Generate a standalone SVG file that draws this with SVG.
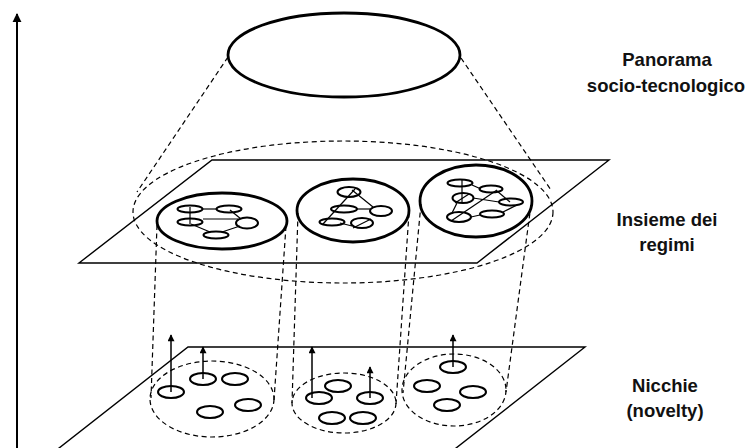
<svg xmlns="http://www.w3.org/2000/svg" width="752" height="448" viewBox="0 0 752 448">
  <defs>
    <marker id="tip" viewBox="0 0 10 10" refX="9" refY="5" markerWidth="9" markerHeight="7" orient="auto" markerUnits="userSpaceOnUse">
      <path d="M0,0 L10,5 L0,10 z" fill="#000"/>
    </marker>
    <marker id="tipBig" viewBox="0 0 10 10" refX="9" refY="5" markerWidth="9" markerHeight="10" orient="auto" markerUnits="userSpaceOnUse">
      <path d="M0,0 L10,5 L0,10 z" fill="#000"/>
    </marker>
    <style>
      .plane { fill: none; stroke: #000; stroke-width: 1.4; }
      .dash { fill: none; stroke: #000; stroke-width: 1.2; stroke-dasharray: 5 3.5; }
      .big { fill: none; stroke: #000; stroke-width: 2.8; }
      .reg { fill: none; stroke: #000; stroke-width: 2.8; }
      .node { fill: none; stroke: #000; stroke-width: 2; }
      .link { fill: none; stroke: #000; stroke-width: 1.2; }
      .up { stroke: #000; stroke-width: 1.5; marker-end: url(#tip); }
      .lbl { font-family: "Liberation Sans", Arial, sans-serif; font-weight: bold; font-size: 18.5px; text-anchor: middle; fill: #111; }
    </style>
  </defs>

  <rect width="752" height="448" fill="#fff"/>

  <!-- vertical axis -->
  <g id="axis">
    <line x1="17" y1="448" x2="17" y2="14" stroke="#000" stroke-width="2" marker-end="url(#tipBig)"/>
  </g>

  <!-- planes -->
  <g id="regime-plane">
    <polygon class="plane" points="212,160 609,160 477,263 79,263"/>
  </g>
  <g id="niche-plane">
    <polygon class="plane" points="188,347 585,347 451,452 54,452"/>
  </g>

  <!-- dashed projections -->
  <g id="connectors">
    <ellipse class="dash" cx="343" cy="212" rx="210" ry="71"/>
    <line class="dash" x1="228" y1="57" x2="137" y2="192"/>
    <line class="dash" x1="461" y1="58" x2="551" y2="190"/>
    <line class="dash" x1="157" y1="225" x2="151" y2="398"/>
    <line class="dash" x1="286" y1="226" x2="274" y2="400"/>
    <line class="dash" x1="298" y1="213" x2="292" y2="403"/>
    <line class="dash" x1="409" y1="213" x2="396" y2="404"/>
    <line class="dash" x1="421" y1="204" x2="403" y2="393"/>
    <line class="dash" x1="531" y1="205" x2="506" y2="392"/>
  </g>

  <!-- socio-technical landscape -->
  <g id="landscape">
    <ellipse class="big" cx="344" cy="55" rx="116" ry="42"/>
  </g>

  <!-- regime 1 -->
  <g id="regime-1">
    <ellipse class="reg" cx="222" cy="221" rx="65" ry="28"/>
    <line class="link" x1="190" y1="207" x2="190" y2="224"/>
    <line class="link" x1="203" y1="209" x2="216" y2="209"/>
    <line class="link" x1="230" y1="210" x2="241" y2="219"/>
    <line class="link" x1="203" y1="219" x2="238" y2="219"/>
    <line class="link" x1="191" y1="224" x2="210" y2="232"/>
    <line class="link" x1="222" y1="232" x2="240" y2="226"/>
    <ellipse class="node" cx="190" cy="209" rx="12.5" ry="3.5"/>
    <ellipse class="node" cx="229" cy="209" rx="12.5" ry="3.5"/>
    <ellipse class="node" cx="190" cy="222" rx="12.5" ry="3.5"/>
    <ellipse class="node" cx="247" cy="223" rx="11" ry="5.5"/>
    <ellipse class="node" cx="216" cy="235" rx="12.5" ry="3.5"/>
  </g>

  <!-- regime 2 -->
  <g id="regime-2">
    <ellipse class="reg" cx="353" cy="210.5" rx="56" ry="31.5"/>
    <line class="link" x1="323" y1="224" x2="355" y2="189"/>
    <line class="link" x1="352" y1="190" x2="373" y2="207"/>
    <line class="link" x1="357" y1="209" x2="370" y2="209"/>
    <line class="link" x1="340" y1="223" x2="352" y2="226"/>
    <line class="link" x1="353" y1="228" x2="371" y2="219"/>
    <ellipse class="node" cx="349" cy="192" rx="11.5" ry="5"/>
    <ellipse class="node" cx="344" cy="209" rx="13" ry="3.5"/>
    <ellipse class="node" cx="381" cy="211" rx="11" ry="5"/>
    <ellipse class="node" cx="332" cy="222" rx="12.5" ry="3.5"/>
    <ellipse class="node" cx="362" cy="223" rx="11" ry="5"/>
  </g>

  <!-- regime 3 -->
  <g id="regime-3">
    <ellipse class="reg" cx="476" cy="201" rx="56" ry="36"/>
    <line class="link" x1="462" y1="180" x2="462" y2="203"/>
    <line class="link" x1="472" y1="185" x2="481" y2="189"/>
    <line class="link" x1="497" y1="191" x2="510" y2="202"/>
    <line class="link" x1="473" y1="198" x2="499" y2="202"/>
    <line class="link" x1="471" y1="217" x2="480" y2="215"/>
    <line class="link" x1="503" y1="212" x2="517" y2="205"/>
    <line class="link" x1="457" y1="203" x2="452" y2="213"/>
    <line class="link" x1="451" y1="221" x2="497" y2="190"/>
    <line class="link" x1="455" y1="203" x2="469" y2="194"/>
    <ellipse class="node" cx="460" cy="183" rx="12.5" ry="3.5"/>
    <ellipse class="node" cx="491" cy="189" rx="11.5" ry="3.5"/>
    <ellipse class="node" cx="463" cy="198" rx="10.5" ry="5"/>
    <ellipse class="node" cx="511" cy="202" rx="12" ry="3.5"/>
    <ellipse class="node" cx="459" cy="217" rx="12" ry="5"/>
    <ellipse class="node" cx="492" cy="214" rx="12" ry="3.5"/>
  </g>

  <!-- niche 1 -->
  <g id="niche-1">
    <ellipse class="dash" cx="212" cy="399" rx="62" ry="38"/>
    <ellipse class="node" cx="171" cy="392" rx="13" ry="6"/>
    <ellipse class="node" cx="203" cy="379" rx="13" ry="6"/>
    <ellipse class="node" cx="235" cy="379" rx="13" ry="6"/>
    <ellipse class="node" cx="210" cy="412" rx="13" ry="6"/>
    <ellipse class="node" cx="248" cy="405" rx="13" ry="6"/>
    <line class="up" x1="171" y1="392" x2="171" y2="335"/>
    <line class="up" x1="203" y1="379" x2="203" y2="347"/>
  </g>

  <!-- niche 2 -->
  <g id="niche-2">
    <ellipse class="dash" cx="344" cy="403" rx="52" ry="30"/>
    <ellipse class="node" cx="319" cy="398" rx="13" ry="6"/>
    <ellipse class="node" cx="338" cy="386" rx="13" ry="6"/>
    <ellipse class="node" cx="370" cy="398" rx="13" ry="6"/>
    <ellipse class="node" cx="332" cy="418" rx="13" ry="6"/>
    <ellipse class="node" cx="363" cy="418" rx="13" ry="6"/>
    <line class="up" x1="312" y1="398" x2="312" y2="347"/>
    <line class="up" x1="370" y1="398" x2="370" y2="367"/>
  </g>

  <!-- niche 3 -->
  <g id="niche-3">
    <ellipse class="dash" cx="454" cy="390" rx="52" ry="36"/>
    <ellipse class="node" cx="453" cy="367" rx="13" ry="6"/>
    <ellipse class="node" cx="427" cy="386" rx="13" ry="6"/>
    <ellipse class="node" cx="473" cy="392" rx="13" ry="6"/>
    <ellipse class="node" cx="447" cy="405" rx="13" ry="6"/>
    <line class="up" x1="453" y1="367" x2="453" y2="335"/>
  </g>

  <!-- level labels -->
  <g id="label-landscape">
    <text class="lbl" x="667" y="66">Panorama</text>
    <text class="lbl" x="666" y="92">socio-tecnologico</text>
  </g>
  <g id="label-regimes">
    <text class="lbl" x="667" y="226">Insieme dei</text>
    <text class="lbl" x="667" y="251">regimi</text>
  </g>
  <g id="label-niches">
    <text class="lbl" x="665" y="392">Nicchie</text>
    <text class="lbl" x="665" y="417">(novelty)</text>
  </g>
</svg>
